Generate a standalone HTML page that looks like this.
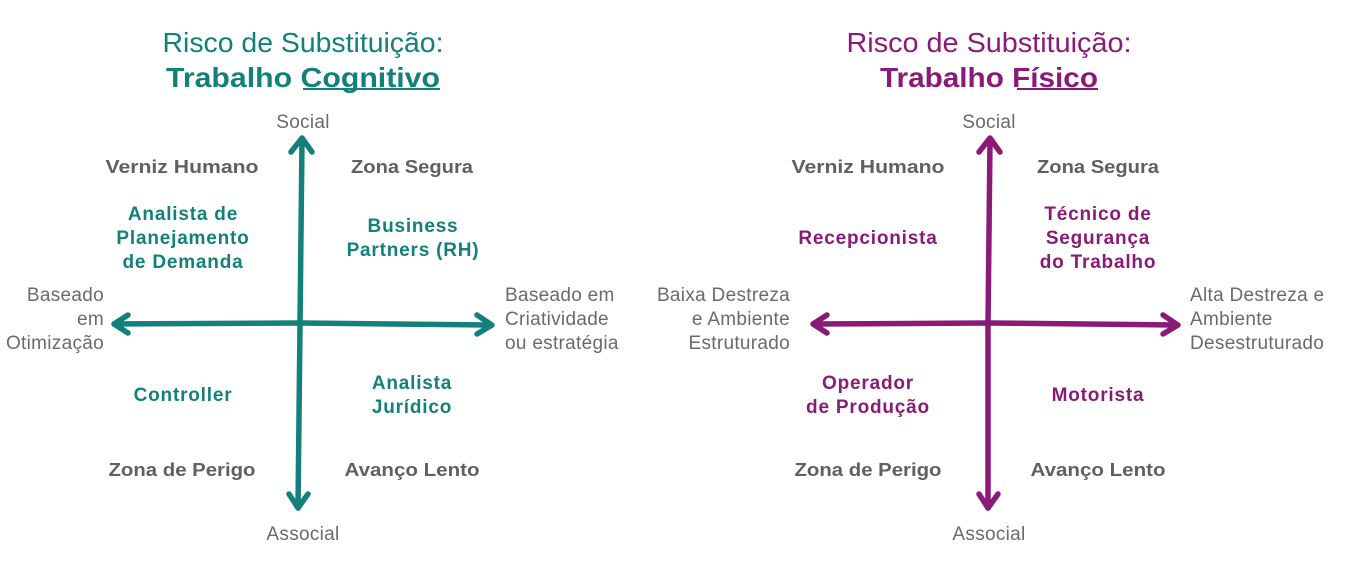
<!DOCTYPE html>
<html><head><meta charset="utf-8"><style>
html,body{margin:0;padding:0;background:#fff;}
svg{display:block;font-family:"Liberation Sans",sans-serif;}
.ax{font-size:19px;fill:#6a6a6a;letter-spacing:0.3px;}
.q{font-size:18px;font-weight:bold;fill:#606060;}
.t{font-size:19px;font-weight:bold;letter-spacing:0.8px;}
</style></head><body>
<svg width="1350" height="567" viewBox="0 0 1350 567" xmlns="http://www.w3.org/2000/svg">
<!-- LEFT -->
<g>
<text x="303" y="52" text-anchor="middle" font-size="28" fill="#13807a" textLength="281" lengthAdjust="spacingAndGlyphs">Risco de Substituição:</text>
<text x="303" y="87" text-anchor="middle" font-size="28" font-weight="bold" fill="#13807a" textLength="274" lengthAdjust="spacingAndGlyphs">Trabalho Cognitivo</text>
<line x1="303" y1="89" x2="440" y2="89" stroke="#13807a" stroke-width="2"/>
<g stroke="#13807a" stroke-width="5.5" stroke-linecap="round" stroke-linejoin="round" fill="none">
<path d="M302 140 L300 325 L298 508"/>
<path d="M291 152 L302 138 L312 152"/>
<path d="M289 494 L298 508 L308 494"/>
<path d="M115 324 L300 323 L490 325"/>
<path d="M128 315 L114 324 L128 333"/>
<path d="M477 315 L492 325 L477 334"/>
</g>
<text class="ax" x="303" y="128" text-anchor="middle">Social</text>
<text class="ax" x="303" y="540" text-anchor="middle">Associal</text>
<text class="ax" text-anchor="end"><tspan x="104" y="301">Baseado</tspan><tspan x="104" y="325">em</tspan><tspan x="104" y="349">Otimização</tspan></text>
<text class="ax" text-anchor="start"><tspan x="505" y="301">Baseado em</tspan><tspan x="505" y="325">Criatividade</tspan><tspan x="505" y="349">ou estratégia</tspan></text>
<text class="q" x="182" y="173" text-anchor="middle" textLength="153" lengthAdjust="spacingAndGlyphs">Verniz Humano</text>
<text class="q" x="412" y="173" text-anchor="middle" textLength="122" lengthAdjust="spacingAndGlyphs">Zona Segura</text>
<text class="q" x="182" y="476" text-anchor="middle" textLength="147" lengthAdjust="spacingAndGlyphs">Zona de Perigo</text>
<text class="q" x="412" y="476" text-anchor="middle" textLength="135" lengthAdjust="spacingAndGlyphs">Avanço Lento</text>
<text class="t" fill="#13807a" text-anchor="middle"><tspan x="183" y="220">Analista de</tspan><tspan x="183" y="244">Planejamento</tspan><tspan x="183" y="268">de Demanda</tspan></text>
<text class="t" fill="#13807a" text-anchor="middle"><tspan x="413" y="232">Business</tspan><tspan x="413" y="256">Partners (RH)</tspan></text>
<text class="t" fill="#13807a" text-anchor="middle" x="183" y="401">Controller</text>
<text class="t" fill="#13807a" text-anchor="middle"><tspan x="412" y="389">Analista</tspan><tspan x="412" y="413">Jurídico</tspan></text>
</g>
<!-- RIGHT -->
<g>
<text x="989" y="52" text-anchor="middle" font-size="28" fill="#8a1a78" textLength="285" lengthAdjust="spacingAndGlyphs">Risco de Substituição:</text>
<text x="989" y="87" text-anchor="middle" font-size="28" font-weight="bold" fill="#8a1a78" textLength="218" lengthAdjust="spacingAndGlyphs">Trabalho Físico</text>
<line x1="1017" y1="89" x2="1098" y2="89" stroke="#8a1a78" stroke-width="2"/>
<g stroke="#8a1a78" stroke-width="5.5" stroke-linecap="round" stroke-linejoin="round" fill="none">
<path d="M990 140 L988 325 L988 508"/>
<path d="M979 152 L990 138 L1000 152"/>
<path d="M979 494 L988 508 L998 494"/>
<path d="M814 324 L988 323 L1176 325"/>
<path d="M827 315 L813 324 L827 333"/>
<path d="M1163 315 L1178 325 L1163 334"/>
</g>
<text class="ax" x="989" y="128" text-anchor="middle">Social</text>
<text class="ax" x="989" y="540" text-anchor="middle">Associal</text>
<text class="ax" text-anchor="end"><tspan x="790" y="301">Baixa Destreza</tspan><tspan x="790" y="325">e Ambiente</tspan><tspan x="790" y="349">Estruturado</tspan></text>
<text class="ax" text-anchor="start"><tspan x="1190" y="301">Alta Destreza e</tspan><tspan x="1190" y="325">Ambiente</tspan><tspan x="1190" y="349">Desestruturado</tspan></text>
<text class="q" x="868" y="173" text-anchor="middle" textLength="153" lengthAdjust="spacingAndGlyphs">Verniz Humano</text>
<text class="q" x="1098" y="173" text-anchor="middle" textLength="122" lengthAdjust="spacingAndGlyphs">Zona Segura</text>
<text class="q" x="868" y="476" text-anchor="middle" textLength="147" lengthAdjust="spacingAndGlyphs">Zona de Perigo</text>
<text class="q" x="1098" y="476" text-anchor="middle" textLength="135" lengthAdjust="spacingAndGlyphs">Avanço Lento</text>
<text class="t" fill="#8a1a78" text-anchor="middle" x="868" y="244">Recepcionista</text>
<text class="t" fill="#8a1a78" text-anchor="middle"><tspan x="1098" y="220">Técnico de</tspan><tspan x="1098" y="244">Segurança</tspan><tspan x="1098" y="268">do Trabalho</tspan></text>
<text class="t" fill="#8a1a78" text-anchor="middle"><tspan x="868" y="389">Operador</tspan><tspan x="868" y="413">de Produção</tspan></text>
<text class="t" fill="#8a1a78" text-anchor="middle" x="1098" y="401">Motorista</text>
</g>
</svg>
</body></html>
